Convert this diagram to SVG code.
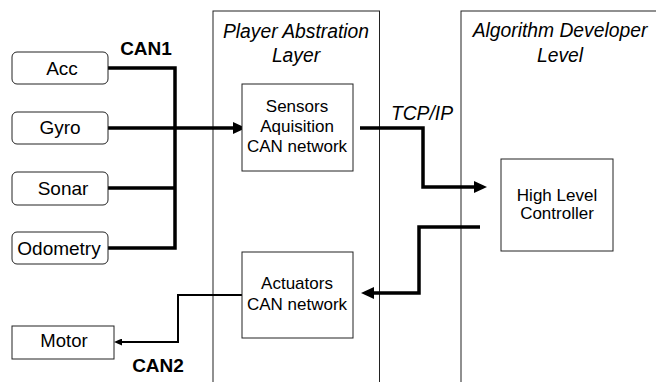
<svg xmlns="http://www.w3.org/2000/svg" width="656" height="382" viewBox="0 0 656 382">
<style>
text{font-family:"Liberation Sans",Arial,sans-serif;fill:#000;text-anchor:middle}
.lbl{font-size:17px}
.sen{font-size:19px}
.ttl{font-size:19.3px;font-style:italic}
.bus{font-size:19px;font-weight:bold}
.layer{fill:none;stroke:#222;stroke-width:1}
.box{fill:#fff;stroke:#222;stroke-width:1}
.thick{fill:none;stroke:#000;stroke-width:3.5;stroke-linejoin:miter}
.thin{fill:none;stroke:#000;stroke-width:2;stroke-linejoin:miter}
</style>
<defs>
<marker id="ah" markerUnits="userSpaceOnUse" markerWidth="13" markerHeight="12" refX="5" refY="6" orient="auto">
<path d="M0,0 L13,6 L0,12 z" fill="#000"/>
</marker>
<marker id="ahs" markerUnits="userSpaceOnUse" markerWidth="8" markerHeight="7" refX="3" refY="3.5" orient="auto">
<path d="M0,0 L8,3.5 L0,7 z" fill="#000"/>
</marker>
</defs>
<rect width="656" height="382" fill="#fff"/>
<g id="layer-player">
<rect class="layer" x="213" y="11" width="166.5" height="380"/>
<text class="ttl" x="296" y="38">Player Abstration</text>
<text class="ttl" x="296" y="62">Layer</text>
</g>
<g id="layer-algorithm">
<rect class="layer" x="461" y="11" width="210" height="380"/>
<text class="ttl" x="560" y="37">Algorithm Developer</text>
<text class="ttl" x="560" y="62">Level</text>
</g>
<g id="connectors">
<path class="thick" d="M108,68 H175 V248 H108 M108,188 H175"/>
<path class="thick" d="M108,128 H238" marker-end="url(#ah)"/>
<path class="thick" d="M360,128 H423 V187 H479" marker-end="url(#ah)"/>
<path class="thick" d="M480,227 H419 V293 H369" marker-end="url(#ah)"/>
<path class="thin" d="M242,295 H178 V342 H119" marker-end="url(#ahs)"/>
<text class="bus" x="146" y="55">CAN1</text>
<text class="bus" x="158" y="372">CAN2</text>
<text class="ttl" x="422" y="120">TCP/IP</text>
</g>
<g id="acc">
<rect class="box" x="12" y="52" width="96" height="32" rx="5"/>
<text class="sen" x="62" y="75">Acc</text>
</g>
<g id="gyro">
<rect class="box" x="12" y="112" width="96" height="32" rx="5"/>
<text class="sen" x="60" y="134">Gyro</text>
</g>
<g id="sonar">
<rect class="box" x="12" y="172" width="96" height="33" rx="5"/>
<text class="sen" x="63" y="195">Sonar</text>
</g>
<g id="odometry">
<rect class="box" x="12" y="232" width="96" height="32" rx="5"/>
<text class="sen" x="59" y="255">Odometry</text>
</g>
<g id="sensors-acq">
<rect class="box" x="242" y="84" width="111" height="87"/>
<text class="lbl" x="297" y="112">Sensors</text>
<text class="lbl" x="297" y="132">Aquisition</text>
<text class="lbl" x="297" y="152">CAN network</text>
</g>
<g id="high-level">
<rect class="box" x="501" y="159" width="112" height="92"/>
<text class="lbl" x="557" y="201">High Level</text>
<text class="lbl" x="557" y="219">Controller</text>
</g>
<g id="actuators">
<rect class="box" x="242" y="252" width="111" height="86"/>
<text class="lbl" x="297" y="289">Actuators</text>
<text class="lbl" x="297" y="310">CAN network</text>
</g>
<g id="motor">
<rect class="box" x="12" y="326" width="102" height="33"/>
<text class="lbl" x="64" y="347" style="font-size:18.5px">Motor</text>
</g>
</svg>
